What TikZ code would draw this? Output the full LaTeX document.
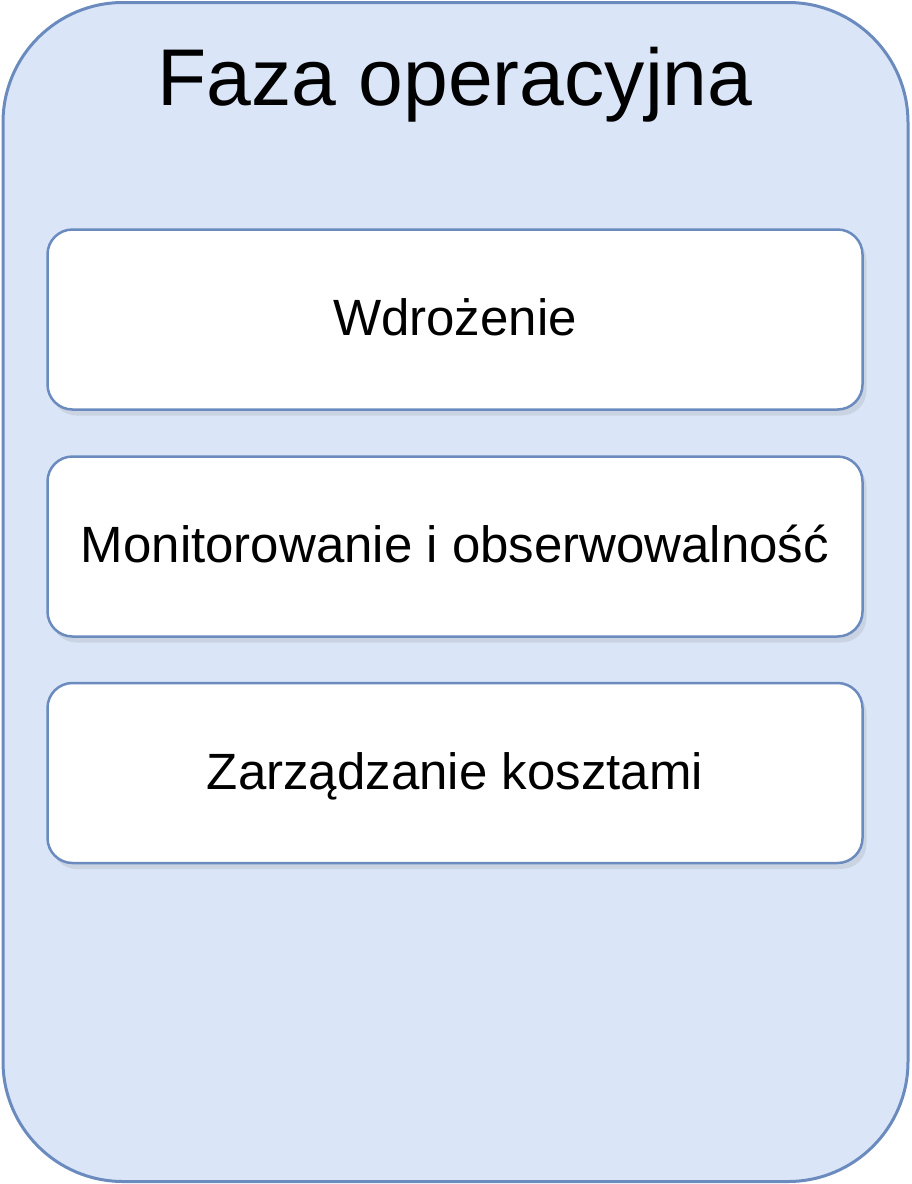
\documentclass[tikz,border=0pt]{standalone}
\usepackage{fontspec}
\setmainfont{Liberation Sans}
\usetikzlibrary{shadows}
\definecolor{phasefill}{HTML}{DAE6F8}
\definecolor{phaseline}{HTML}{6B8BBF}
\begin{document}
\begin{tikzpicture}[x=1pt,y=-1pt,
  phase/.style={draw=phaseline,line width=3pt,fill=phasefill,rounded corners=120pt,
    minimum width=905pt,minimum height=1179pt},
  task/.style={draw=phaseline,line width=2.5pt,fill=white,rounded corners=25pt,
    minimum width=815pt,minimum height=180pt,
    drop shadow={opacity=0.18,shadow xshift=4pt,shadow yshift=-6pt},
    font=\fontsize{51}{60}\selectfont,text height=38pt,text depth=6pt}]
  \useasboundingbox (0,0) rectangle (912,1184);
  \node [phase] (P) at (455.5,592) {};
  \node [anchor=base,font=\fontsize{80.5}{90}\selectfont] (T) at (455,105) {Faza operacyjna};

  \node [task] (A) at (455,319.5) {Wdrożenie};
  \node [task] (B) at (455,546.5) {Monitorowanie i obserwowalność};
  \node [task] (C) at (455,773) {Zarządzanie kosztami};
\end{tikzpicture}
\end{document}
